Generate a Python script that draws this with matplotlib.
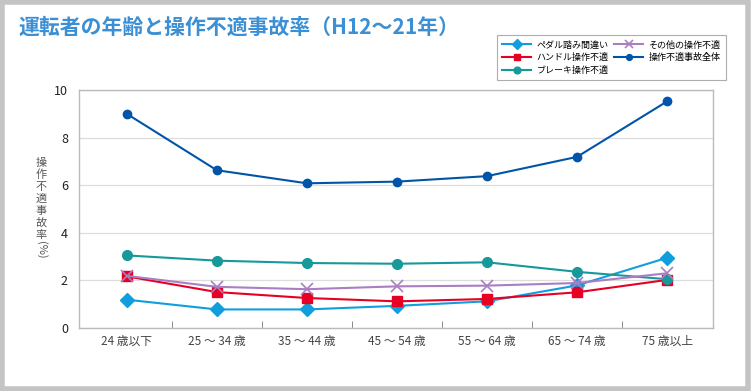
import matplotlib.pyplot as plt
from matplotlib.patches import Rectangle

plt.rcParams['font.family'] = ['Noto Sans CJK JP', 'DejaVu Sans']

categories = ['24 歳以下', '25 ～ 34 歳', '35 ～ 44 歳', '45 ～ 54 歳', '55 ～ 64 歳', '65 ～ 74 歳', '75 歳以上']
pedal = [1.19, 0.78, 0.78, 0.93, 1.12, 1.79, 2.95]
handle = [2.17, 1.51, 1.26, 1.12, 1.22, 1.50, 2.02]
brake = [3.05, 2.83, 2.73, 2.70, 2.76, 2.36, 2.05]
other = [2.19, 1.73, 1.63, 1.75, 1.78, 1.89, 2.30]
total = [9.00, 6.63, 6.08, 6.15, 6.38, 7.19, 9.52]
ylabel = '操作不適事故率'

fig = plt.figure(figsize=(7.52, 3.91), dpi=100)
fig.patch.set_facecolor('white')
# gray frame round the whole picture
fig.patches.append(Rectangle((0.002, 0.005), 0.993, 0.99, transform=fig.transFigure,
                             fill=False, edgecolor='#c4c4c4', linewidth=4))

ax = fig.add_axes([79 / 752, 1 - 328 / 391, (713 - 79) / 752, (328 - 90) / 391])
x = range(len(categories))

ax.plot(x, pedal, color='#109fdc', marker='D', markersize=7, lw=1.5, label='ペダル踏み間違い')
ax.plot(x, handle, color='#e60024', marker='s', markersize=7, lw=1.5, label='ハンドル操作不適')
ax.plot(x, brake, color='#17999a', marker='o', markersize=7, lw=1.5, label='ブレーキ操作不適')
ax.plot(x, other, color='#a97ec2', marker='x', markersize=8, mew=1.2, lw=1.5, label='その他の操作不適')
ax.plot(x, total, color='#0055a8', marker='o', markersize=6, lw=1.5, label='操作不適事故全体')

ax.set_ylim(0, 10)
ax.set_xlim(-0.53, 6.51)
ax.set_yticks([0, 2, 4, 6, 8, 10])
ax.set_xticks(list(x))
ax.set_xticklabels(categories)
ax.set_xticks([i + 0.5 for i in range(6)], minor=True)
ax.tick_params(axis='x', which='major', length=0, labelsize=8.5, colors='#444444', pad=5)
ax.tick_params(axis='x', which='minor', length=5, direction='in', color='#777777')
ax.tick_params(axis='y', length=0, labelsize=9, colors='#222222', pad=8)
ax.grid(axis='y', color='#dddddd', lw=0.9)
ax.set_axisbelow(True)
for s in ax.spines.values():
    s.set_color('#bbbbbb')
    s.set_linewidth(1.0)

fig.text(18 / 752, 1 - 27 / 391, '運転者の年齢と操作不適事故率（H12～21年）',
         fontsize=15, fontweight='bold', color='#3b8fd4', va='center', ha='left')

# vertical y label, one character per line
for i, ch in enumerate(ylabel):
    fig.text(41 / 752, 1 - (163 + i * 12) / 391, ch, fontsize=8, color='#555555',
             ha='center', va='center')
fig.text(41 / 752, 1 - 250 / 391, '(%)', fontsize=8, color='#555555', rotation=270,
         ha='center', va='center')

leg = fig.legend(loc='upper left', bbox_to_anchor=(497 / 752, 1 - 35 / 391), ncol=2,
                 fontsize=6.5, frameon=True, fancybox=False, edgecolor='#999999',
                 handlelength=3.2, handletextpad=0.6, columnspacing=0.6,
                 labelspacing=0.4, borderpad=0.6, markerscale=0.7, borderaxespad=0)
leg.get_frame().set_linewidth(0.8)

fig.savefig('out.png', dpi=100)
